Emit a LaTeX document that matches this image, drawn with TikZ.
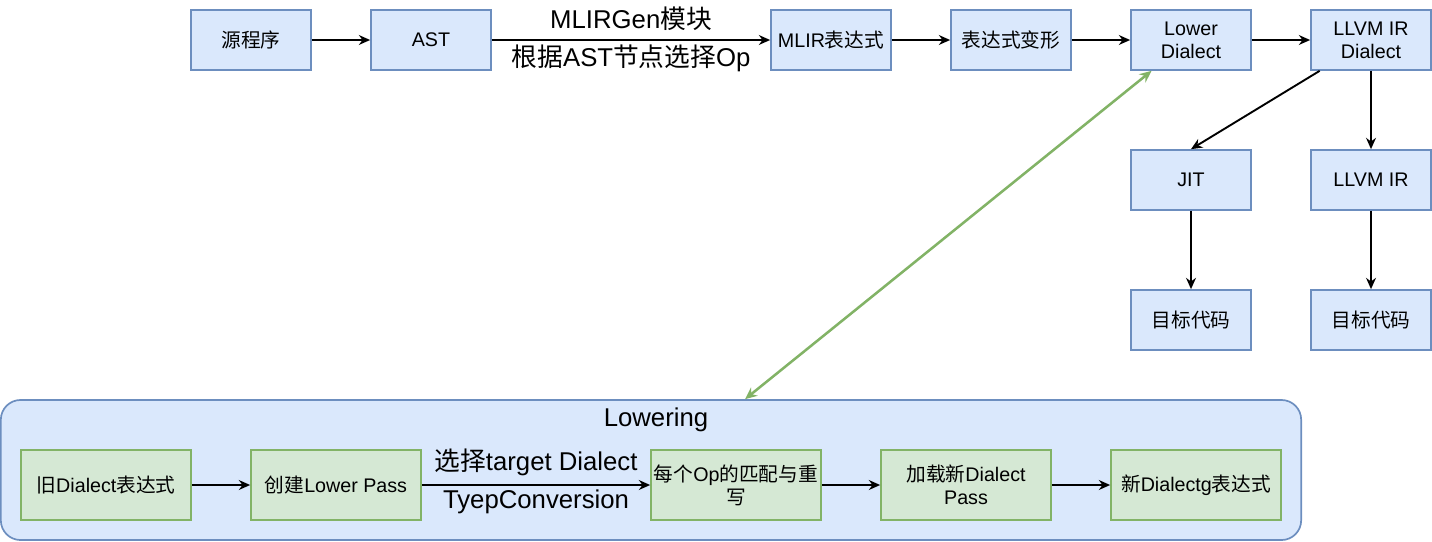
\documentclass[tikz,border=0pt]{standalone}
\usepackage{fontspec}
\setmainfont{Liberation Sans}
\newfontfamily\cjk{Noto Sans CJK SC}
\newcommand{\zh}[1]{{\cjk #1}}
\usetikzlibrary{arrows.meta, positioning, backgrounds}
\definecolor{bluefill}{HTML}{DAE8FC}
\definecolor{bluedraw}{HTML}{6C8EBF}
\definecolor{greenfill}{HTML}{D5E8D4}
\definecolor{greendraw}{HTML}{82B366}

\begin{document}
\begin{tikzpicture}[
    x=0.025cm, y=-0.025cm,
    block/.style = {rectangle, minimum width=3cm, minimum height=1.5cm, inner sep=1pt,
                    text centered, draw=bluedraw, fill=bluefill, line width=1.2pt,
                    font=\fontsize{14}{16.5}\selectfont, align=center},
    pass/.style = {rectangle, minimum width=4.25cm, minimum height=1.75cm, inner sep=1pt,
                   text centered, draw=greendraw, fill=greenfill, line width=1.2pt,
                   font=\fontsize{14}{16.5}\selectfont, align=center},
    group/.style = {rectangle, rounded corners=14pt, minimum width=32.5cm, minimum height=3.5cm,
                    draw=bluedraw, fill=bluefill, line width=1.2pt},
    arrow/.style = {-{Stealth[length=8pt, width=7pt]}, line width=1.35pt},
    link/.style = {{Stealth[length=8.5pt, width=7.5pt]}-{Stealth[length=8.5pt, width=7.5pt]},
                   line width=1.8pt, draw=greendraw},
    biglabel/.style = {font=\fontsize{18.3}{21}\selectfont, inner sep=2pt}
]

\useasboundingbox (0,0) rectangle (1432,541);

% Background container
\node[group] (lowering) at (651,470) {};
\node[biglabel] (lowerlabel) at (656,420) {Lowering};

% Nodes - top row
\node (source) [block] at (251,40) {\zh{源程序}};
\node (ast) [block] at (431,40) {AST};
\node (mlir) [block] at (831,40) {MLIR\zh{表达式}};
\node (transform) [block] at (1011,40) {\zh{表达式变形}};
\node (lower) [block] at (1191,40) {Lower\\Dialect};
\node (llvmd) [block] at (1371,40) {LLVM IR\\Dialect};

% Nodes - backends
\node (jit) [block] at (1191,180) {JIT};
\node (llvmir) [block] at (1371,180) {LLVM IR};
\node (target1) [block] at (1191,320) {\zh{目标代码}};
\node (target2) [block] at (1371,320) {\zh{目标代码}};

% Nodes - Lowering steps
\node (old) [pass] at (106,485) {\zh{旧}Dialect\zh{表达式}};
\node (create) [pass] at (336,485) {\zh{创建}Lower Pass};
\node (rewrite) [pass] at (736,485) {\zh{每个}Op\zh{的匹配与重}\\\zh{写}};
\node (load) [pass] at (966,485) {\zh{加载新}Dialect\\Pass};
\node (new) [pass] at (1196,485) {\zh{新}Dialectg\zh{表达式}};

% Arrows - top row
\draw [arrow] (source) -- (ast);
\draw [arrow] (ast) -- node[biglabel, above=4pt] {MLIRGen\zh{模块}}
                      node[biglabel, below=1pt] {\zh{根据}AST\zh{节点选择}Op} (mlir);
\draw [arrow] (mlir) -- (transform);
\draw [arrow] (transform) -- (lower);
\draw [arrow] (lower) -- (llvmd);

% Arrows - backends
\draw [arrow] (llvmd.211.5) -- (jit.north);
\draw [arrow] (llvmd) -- (llvmir);
\draw [arrow] (jit) -- (target1);
\draw [arrow] (llvmir) -- (target2);

% Arrows - Lowering steps
\draw [arrow] (old) -- (create);
\draw [arrow] (create) -- node[biglabel, above=4pt] {\zh{选择}target Dialect}
                         node[biglabel, below=1pt] {TyepConversion} (rewrite);
\draw [arrow] (rewrite) -- (load);
\draw [arrow] (load) -- (new);

% Link between Lower Dialect and Lowering
\draw [link] (lower.218.3) -- (lowering.37.6);

\end{tikzpicture}
\end{document}
